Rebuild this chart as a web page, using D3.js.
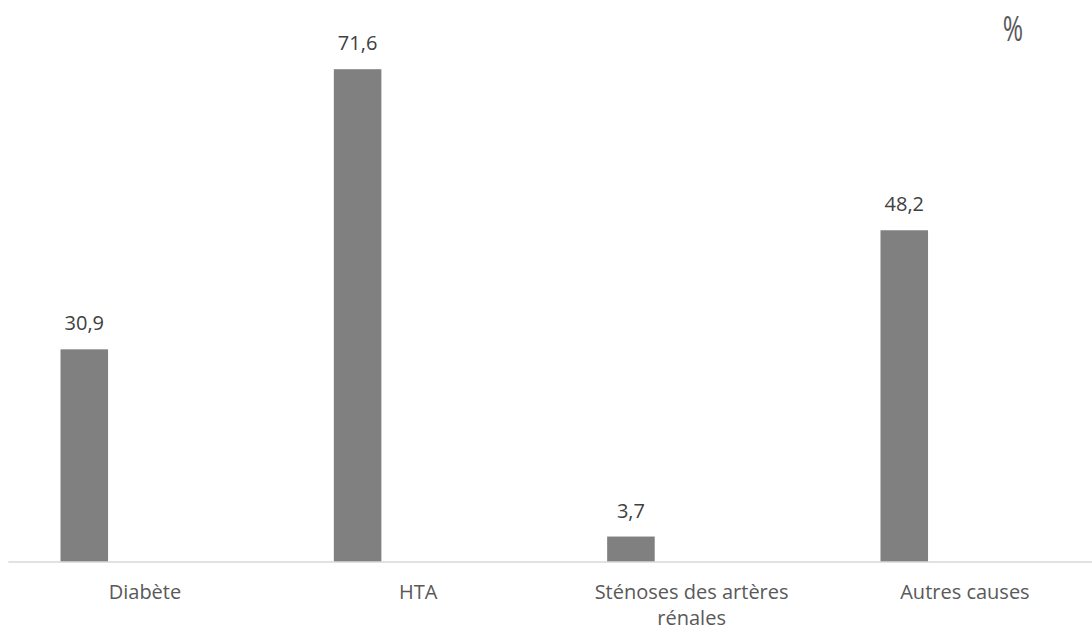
<!DOCTYPE html>
<html><head><meta charset="utf-8">
<script src="https://cdn.jsdelivr.net/npm/d3@7"></script>
<style>html,body{margin:0;padding:0;background:#fff;}svg{display:block;}</style>
</head><body>
<svg id="chart" width="1092" height="631"></svg>
<script>
const categories = ["Diabète", "HTA", "Sténoses des artères rénales", "Autres causes"];
const categoryLines = [["Diabète"], ["HTA"], ["Sténoses des artères", "rénales"], ["Autres causes"]];
const values = [30.9, 71.6, 3.7, 48.2];
const valueLabels = ["30,9", "71,6", "3,7", "48,2"];
const unitLabel = "%";

const svg = d3.select("#chart");
const font = "'Open Sans', 'Noto Sans', sans-serif";

const x = d3.scaleBand().domain(categories).range([8.3, 1101.6]).padding(0);
const y = d3.scaleLinear().domain([0, 71.6]).range([562, 69.2]);

// bar sits in left part of each category band
const barOffset = x.bandwidth() * 0.191;
const barWidth = x.bandwidth() * 0.174;

svg.append("g").selectAll("rect").data(values).join("rect")
  .attr("x", (d, i) => x(categories[i]) + barOffset)
  .attr("width", barWidth)
  .attr("y", d => y(d))
  .attr("height", d => y(0) - y(d))
  .attr("fill", "#808080");

// axis baseline
svg.append("line")
  .attr("x1", x.range()[0]).attr("x2", x.range()[1])
  .attr("y1", y(0)).attr("y2", y(0))
  .attr("stroke", "#d9d9d9").attr("stroke-width", 1.5);

// value labels
svg.append("g").selectAll("text").data(values).join("text")
  .attr("x", (d, i) => x(categories[i]) + barOffset + barWidth / 2)
  .attr("y", d => y(d) - 19)
  .attr("text-anchor", "middle")
  .attr("font-family", font).attr("font-size", 20)
  .attr("fill", "#404040")
  .text((d, i) => valueLabels[i]);

// category labels
const cl = svg.append("g").selectAll("text").data(categories).join("text")
  .attr("x", d => x(d) + x.bandwidth() / 2)
  .attr("y", 599)
  .attr("text-anchor", "middle")
  .attr("font-family", font).attr("font-size", 20)
  .attr("fill", "#595959");
cl.each(function(d, i) {
  const t = d3.select(this);
  categoryLines[i].forEach((ln, j) => {
    t.append("tspan").attr("x", x(d) + x.bandwidth() / 2).attr("dy", j === 0 ? 0 : 26).text(ln);
  });
});

// unit label
svg.append("text")
  .attr("transform", "translate(1013,40.5) scale(0.82,1.15)")
  .attr("text-anchor", "middle")
  .attr("font-family", font).attr("font-size", 30)
  .attr("fill", "#595959")
  .text(unitLabel);
</script>
</body></html>
